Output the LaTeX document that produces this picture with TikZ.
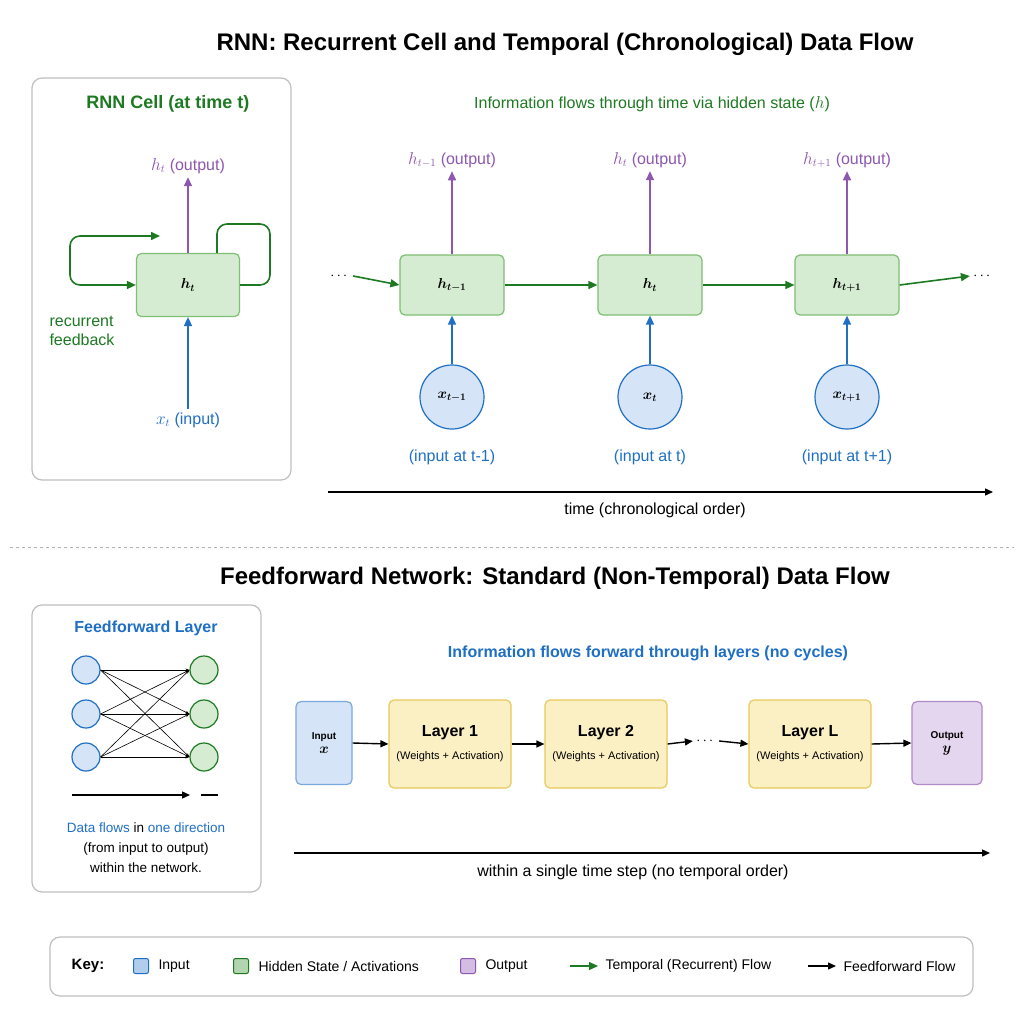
\documentclass[tikz,border=0pt]{standalone}
\usepackage{amsmath,bm}
\usepackage{fontspec}
\setmainfont{Liberation Sans}
\usetikzlibrary{arrows.meta}
\let\boldsymbol\bm
\definecolor{dgreen}{HTML}{1E7A22}
\definecolor{gfill}{HTML}{D6ECD2}
\definecolor{gline}{HTML}{7DBF73}
\definecolor{dblue}{HTML}{1F6FC4}
\definecolor{bfill}{HTML}{D5E4F7}
\definecolor{purp}{HTML}{8E57B0}
\definecolor{pfill}{HTML}{E4D6EF}
\definecolor{yfill}{HTML}{FBF0C4}
\definecolor{yline}{HTML}{E8C95A}
\begin{document}
\begin{tikzpicture}[x=1pt,y=-1pt,
  font=\fontsize{16}{19}\selectfont,
  panel/.style={draw=black!25,line width=1.2pt,rounded corners=10pt},
  cell/.style={draw=gline,fill=gfill,line width=1.2pt,rounded corners=5pt,minimum width=104pt,minimum height=60pt},
  inp/.style={circle,draw=dblue,fill=bfill,line width=1.2pt,minimum size=64pt},
  layer/.style={draw=yline,fill=yfill,line width=1.2pt,rounded corners=5pt,minimum width=122pt,minimum height=88pt,align=center},
  garr/.style={draw=dgreen,line width=1.6pt,-{Triangle[length=9pt,width=8pt]}},
  parr/.style={draw=purp,line width=1.6pt,-{Triangle[length=9pt,width=8pt]}},
  barr/.style={draw=dblue,line width=1.6pt,-{Triangle[length=9pt,width=8pt]}},
  karr/.style={draw=black,line width=1.4pt,-{Triangle[length=8pt,width=7pt]}},
  ttl/.style={font=\fontsize{24}{28}\selectfont\bfseries},
  keysq/.style={draw,line width=1pt,rounded corners=2pt,minimum size=15pt}]
\useasboundingbox (0,0) rectangle (1024,1024);
\fill[white] (0,0) rectangle (1024,1024);
% RNN part
\node[ttl] (title1) at (565,44) {RNN: Recurrent Cell and Temporal (Chronological) Data Flow};
\draw[panel] (32,78) rectangle (291,480);
\node[text=dgreen,font=\fontsize{18}{21}\selectfont\bfseries] (celltitle) at (168,104) {RNN Cell (at time t)};
\node[cell,minimum width=103pt,minimum height=63pt] (cell) at (188,285) {\Large$\boldsymbol{h_t}$};
\node[text=purp] (cellout) at (188,166) {$h_t$ (output)};
\node[text=dblue] (cellin) at (188,420) {$x_t$ (input)};
\draw[parr] (cell.north) -- (cellout.south);
\draw[barr] (cellin.north) -- (cell.south);
\coordinate (lp) at (70,262);
\coordinate (ltop) at (160,236);
\draw[garr,rounded corners=10pt] (lp) |- (ltop);
\draw[garr,rounded corners=10pt] (lp) |- (cell.west);
\draw[draw=dgreen,line width=1.6pt,rounded corners=10pt] ([xshift=29pt]cell.north) |- (270,224) |- (cell.east);
\node[text=dgreen,align=left,anchor=west] (fb) at (46,331) {recurrent\\feedback};
\node[text=dgreen] (sub1) at (652,104) {Information flows through time via hidden state ($h$)};
\foreach \n/\x/\s/\l in {a/452/{t-1}/{t-1},b/650/{t}/{t},c/847/{t+1}/{t+1}}{
  \node[cell] (h\n) at (\x,285) {\Large$\boldsymbol{h_{\s}}$};
  \node[text=purp] (o\n) at (\x,160) {$h_{\s}$ (output)};
  \node[inp] (x\n) at (\x,397) {\Large$\boldsymbol{x_{\s}}$};
  \node[text=dblue] (l\n) at (\x,457) {(input at \l)};
  \draw[parr] (h\n.north) -- (o\n.south);
  \draw[barr] (x\n.north) -- (h\n.south);
}
\node[font=\bfseries\Large] (dl) at (340,276) {$\cdots$};
\node[font=\bfseries\Large] (dr) at (983,276) {$\cdots$};
\draw[garr] (dl.east) -- (ha.west);
\draw[garr] (ha.east) -- (hb.west);
\draw[garr] (hb.east) -- (hc.west);
\draw[garr] (hc.east) -- (dr.west);
\coordinate (t0) at (328,492);
\coordinate (t1) at (993,492);
\draw[karr] (t0) -- (t1);
\node (tl) at (655,510) {time (chronological order)};
\draw[black!30,dashed,line width=1pt] (10,547) -- (1014,547);
% feedforward part
\node[ttl] (title2) at (555,578) {Feedforward Network: Standard (Non-Temporal) Data Flow};
\draw[panel] (32,605) rectangle (261,892);
\node[text=dblue,font=\fontsize{16}{19}\selectfont\bfseries] (fftitle) at (146,628) {Feedforward Layer};
\foreach \i/\y in {1/670,2/714,3/757}{
  \node[circle,draw=dblue,fill=bfill,line width=1.2pt,minimum size=28pt] (u\i) at (86,\y) {};
  \node[circle,draw=dgreen,fill=gfill,line width=1.2pt,minimum size=28pt] (v\i) at (204,\y) {};
}
\foreach \i in {1,2,3}{\foreach \j in {1,2,3}{\draw[line width=0.6pt,-{Stealth[length=4pt]}] (u\i.east) -- (v\j.west);}}
\coordinate (f0) at (72,795);
\coordinate (f1) at (190,795);
\draw[karr] (f0) -- (f1);
\draw[line width=1.4pt] (201,795) -- (218,795);
\node[align=center,font=\fontsize{13.5}{20}\selectfont] (fftext) at (146,848) {\textcolor{dblue}{Data flows} in \textcolor{dblue}{one direction}\\(from input to output)\\within the network.};
\node[text=dblue,font=\fontsize{16}{19}\selectfont\bfseries] (sub2) at (648,653) {Information flows forward through layers (no cycles)};
\node[draw=dblue!60,fill=bfill,line width=1.2pt,rounded corners=5pt,minimum width=56pt,minimum height=83pt,align=center,font=\bfseries] (fin) at (324,743) {Input\\[2pt]\Large$\boldsymbol{x}$};
\node[layer] (L1) at (450,744) {\textbf{Layer 1}\\[4pt]{\fontsize{11}{13}\selectfont (Weights + Activation)}};
\node[layer] (L2) at (606,744) {\textbf{Layer 2}\\[4pt]{\fontsize{11}{13}\selectfont (Weights + Activation)}};
\node[layer] (LL) at (810,744) {\textbf{Layer L}\\[4pt]{\fontsize{11}{13}\selectfont (Weights + Activation)}};
\node[draw=purp!70,fill=pfill,line width=1.2pt,rounded corners=5pt,minimum width=70pt,minimum height=83pt,align=center,font=\bfseries] (fout) at (947,743) {Output\\[2pt]\Large$\boldsymbol{y}$};
\node[font=\bfseries\Large] (fd) at (706,741) {$\cdots$};
\draw[karr] (fin.east) -- (L1.west);
\draw[karr] (L1.east) -- (L2.west);
\draw[karr] (L2.east) -- (fd.west);
\draw[karr] (fd.east) -- (LL.west);
\draw[karr] (LL.east) -- (fout.west);
\coordinate (s0) at (294,853);
\coordinate (s1) at (990,853);
\draw[karr] (s0) -- (s1);
\node (sl) at (633,872) {within a single time step (no temporal order)};
% key
\draw[panel] (50,937) rectangle (973,996);
\begin{scope}[font=\fontsize{14}{17}\selectfont]
\node[font=\fontsize{15}{18}\selectfont\bfseries] (key) at (88,966) {Key:};
\node[keysq,draw=dblue,fill=bfill!80!dblue] (k1) at (141,966) {};
\node[anchor=west] at ([xshift=6pt]k1.east) {Input};
\node[keysq,draw=dgreen,fill=gfill!80!dgreen] (k2) at (241,966) {};
\node[anchor=west] at ([xshift=6pt]k2.east) {Hidden State / Activations};
\node[keysq,draw=purp,fill=pfill!80!purp] (k3) at (468,966) {};
\node[anchor=west] at ([xshift=6pt]k3.east) {Output};
\coordinate (k4a) at (570,966);
\coordinate (k4b) at (598,966);
\draw[garr,line width=1.3pt] (k4a) -- (k4b);
\node[anchor=west] at (602,966) {Temporal (Recurrent) Flow};
\coordinate (k5a) at (808,966);
\coordinate (k5b) at (836,966);
\draw[karr,line width=1.2pt] (k5a) -- (k5b);
\node[anchor=west] at (840,966) {Feedforward Flow};
\end{scope}
\end{tikzpicture}
\end{document}
